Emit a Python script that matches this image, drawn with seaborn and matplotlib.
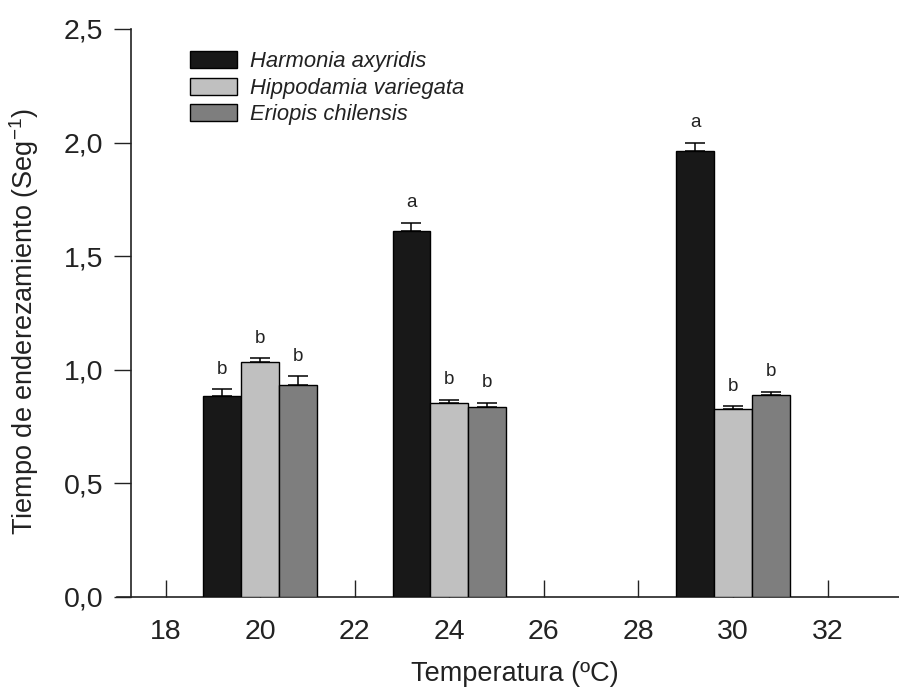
import matplotlib
matplotlib.use("Agg")
import matplotlib.pyplot as plt
import seaborn as sns
import pandas as pd
import numpy as np

temps = [20, 24, 30]
species = ["Harmonia axyridis", "Hippodamia variegata", "Eriopis chilensis"]
harmonia = [0.885, 1.612, 1.965]
hippodamia = [1.035, 0.855, 0.828]
eriopis = [0.932, 0.837, 0.890]
harmonia_err = [0.030, 0.036, 0.035]
hippodamia_err = [0.015, 0.013, 0.013]
eriopis_err = [0.040, 0.018, 0.013]
harmonia_lbl = ["b", "a", "a"]
hippodamia_lbl = ["b", "b", "b"]
eriopis_lbl = ["b", "b", "b"]
colors = ["#181818", "#c0c0c0", "#7e7e7e"]
xticks = [18, 20, 22, 24, 26, 28, 30, 32]
yticks = [0.0, 0.5, 1.0, 1.5, 2.0, 2.5]

sns.set_theme(style="ticks")
plt.rcParams["font.family"] = ["Liberation Sans", "DejaVu Sans"]
plt.rcParams["mathtext.fontset"] = "custom"
plt.rcParams["mathtext.rm"] = "Liberation Sans"
plt.rcParams["mathtext.it"] = "Liberation Sans:italic"
plt.rcParams["mathtext.bf"] = "Liberation Sans:bold"

vals = [harmonia, hippodamia, eriopis]
errs = [harmonia_err, hippodamia_err, eriopis_err]
lbls = [harmonia_lbl, hippodamia_lbl, eriopis_lbl]
rows = []
for s, v in zip(species, vals):
    for t, val in zip(temps, v):
        rows.append({"temp": t, "species": s, "value": val})
df = pd.DataFrame(rows)

fig = plt.figure(figsize=(8.99, 6.91), dpi=100)
ax = fig.add_axes([131 / 899, 1 - 597 / 691, 1 - 131 / 899, (597 - 29) / 691])

sns.barplot(data=df, x="temp", y="value", hue="species", hue_order=species,
            palette=colors, native_scale=True, width=0.6, errorbar=None,
            edgecolor="black", linewidth=1.0, ax=ax, zorder=3, legend=True)

# error bars and letters, matched to drawn bars
bars = [p for p in ax.patches if p.get_height() > 0 and p.get_width() < 2]
bars = sorted(bars, key=lambda p: p.get_x())
err_order = []
lbl_order = []
for i in range(len(temps)):
    for j in range(len(species)):
        err_order.append(errs[j][i])
        lbl_order.append(lbls[j][i])
for p, e, l in zip(bars, err_order, lbl_order):
    xc = p.get_x() + p.get_width() / 2
    h = p.get_height()
    ax.errorbar([xc], [h], yerr=[[0], [e]], fmt="none", ecolor="black",
                elinewidth=1.1, capsize=7.5, capthick=1.1, zorder=4)
    ax.text(xc, h + e + 0.05, l, ha="center", va="bottom", fontsize=13.5,
            color="#222222")

ax.set_xlim(17.27, 33.51)
ax.set_ylim(0, 2.5)
ax.set_xticks(xticks)
ax.set_xticklabels([str(t) for t in xticks])
ax.set_yticks(yticks)
ax.set_yticklabels([f"{t:.1f}".replace(".", ",") for t in yticks])
ax.tick_params(axis="x", direction="in", length=12, width=1, labelsize=20.5, pad=16,
               colors="#222222")
ax.tick_params(axis="y", direction="out", length=12, width=1, labelsize=20.5, pad=8,
               colors="#222222")
for side in ["top", "right"]:
    ax.spines[side].set_visible(False)
for side in ["left", "bottom"]:
    ax.spines[side].set_linewidth(1.2)
    ax.spines[side].set_color("#222222")
ax.spines["bottom"].set_bounds(16.98, 33.51)
ax.set_xlabel("Temperatura (ºC)", fontsize=19.5, color="#222222")
ax.set_ylabel("Tiempo de enderezamiento (Seg$^{\\mathrm{-1}}$)", fontsize=19.5,
              color="#222222")
ax.xaxis.set_label_coords(0.5, -0.113)
ax.yaxis.set_label_coords(-0.117, 0.485)

leg = ax.legend(loc="upper left", bbox_to_anchor=(190 / 899, 1 - 51 / 691),
                bbox_transform=fig.transFigure, frameon=False,
                borderpad=0, borderaxespad=0, handlelength=2.15, handleheight=0.8,
                handletextpad=0.6, labelspacing=0.26,
                prop={"style": "italic", "size": 15.8})
for t in leg.get_texts():
    t.set_color("#222222")

fig.savefig("out.png", dpi=100)
